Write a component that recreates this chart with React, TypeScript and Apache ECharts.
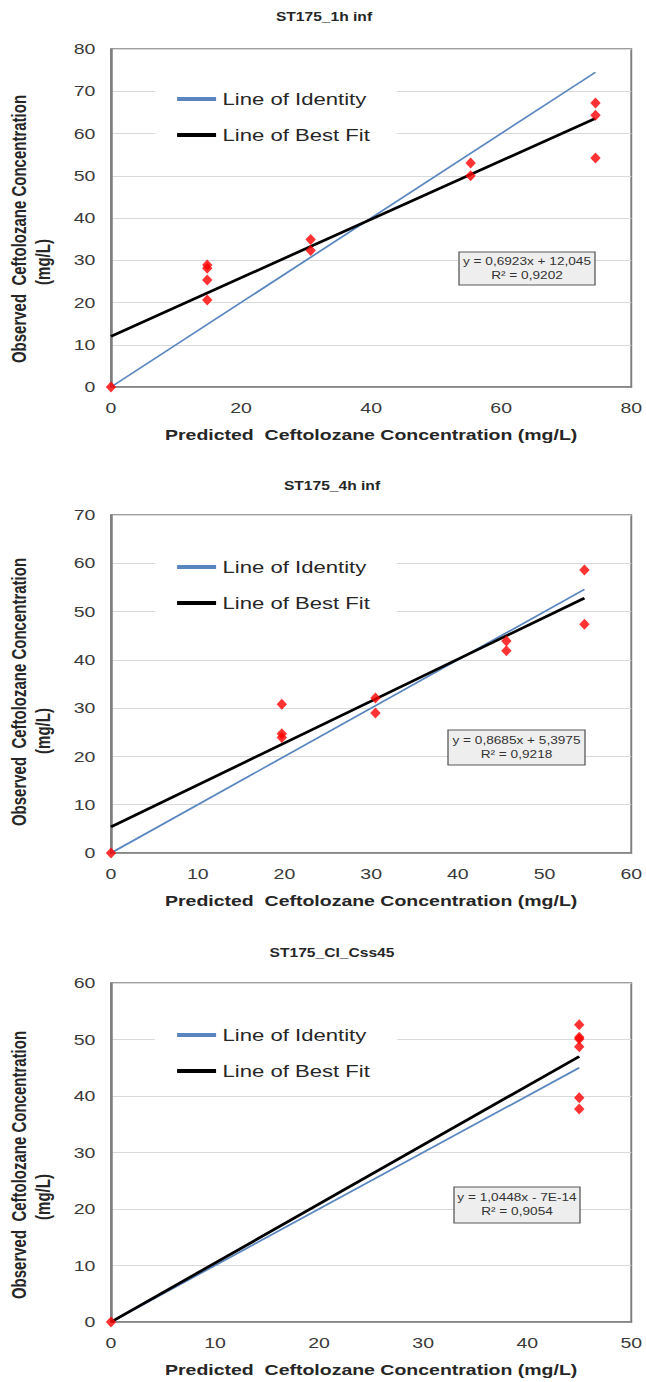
import React, { useEffect, useRef } from "react";
import * as echarts from "echarts";

// ---------- data ----------
const TITLES = ["ST175_1h inf", "ST175_4h inf", "ST175_CI_Css45"];
const X_MAX = [80, 60, 50];
const X_INTERVAL = [20, 10, 10];
const Y_MAX = [80, 70, 60];
const Y_INTERVAL = [10, 10, 10];

const POINTS_1H: [number, number][] = [
  [0, 0],
  [14.8, 28.9], [14.8, 28.1], [14.8, 25.3], [14.8, 20.6],
  [30.7, 34.9], [30.7, 32.3],
  [55.3, 53.0], [55.3, 50.0],
  [74.5, 67.2], [74.5, 64.3], [74.5, 54.2],
];
const POINTS_4H: [number, number][] = [
  [0, 0],
  [19.7, 30.8], [19.7, 24.7], [19.7, 23.9],
  [30.5, 32.1], [30.5, 29.0],
  [45.6, 43.9], [45.6, 41.9],
  [54.6, 58.6], [54.6, 47.4],
];
const POINTS_CSS45: [number, number][] = [
  [0, 0],
  [45, 52.6], [45, 50.4], [45, 50.1], [45, 48.7], [45, 39.7], [45, 37.7],
];

const IDENTITY_1H: [number, number][] = [[0, 0], [74.5, 74.5]];
const IDENTITY_4H: [number, number][] = [[0, 0], [54.6, 54.6]];
const IDENTITY_CSS45: [number, number][] = [[0, 0], [45, 45]];

const FIT_1H: [number, number][] = [[0, 12.0], [74.5, 63.6]];
const FIT_4H: [number, number][] = [[0, 5.4], [54.6, 52.8]];
const FIT_CSS45: [number, number][] = [[0, 0], [45, 47.0]];

const EQUATIONS = [
  ["y = 0,6923x + 12,045", "R² = 0,9202"],
  ["y = 0,8685x + 5,3975", "R² = 0,9218"],
  ["y = 1,0448x - 7E-14", "R² = 0,9054"],
];

const LEGEND_NAMES = ["Line of Identity", "Line of Best Fit"];
const X_TITLE = "Predicted  Ceftolozane Concentration (mg/L)";
const Y_TITLE = ["Observed  Ceftolozane Concentration", "(mg/L)"];

const POINTS = [POINTS_1H, POINTS_4H, POINTS_CSS45];
const IDENTITY = [IDENTITY_1H, IDENTITY_4H, IDENTITY_CSS45];
const FIT = [FIT_1H, FIT_4H, FIT_CSS45];

// ---------- layout (real pixels, chart is stretched horizontally) ----------
const W = 497;
const S = 646 / W;
const rx = (x: number) => x / S;
const FONT = "'Liberation Sans', Arial, sans-serif";

const GRIDS = [
  { top: 49, height: 338 },
  { top: 515, height: 338 },
  { top: 983, height: 339 },
];
const TITLE_POS = [
  { x: 324, y: 17 },
  { x: 332, y: 486 },
  { x: 332, y: 953 },
];
const YTITLE_POS = [
  { y1: 229, y2: 262 },
  { y1: 692, y2: 731 },
  { y1: 1165, y2: 1197 },
];
const LEGEND_TOP = [78, 546, 1014];
const EQ_BOX = [
  { x: 459, y: 252, w: 136, h: 33 },
  { x: 448, y: 730, w: 137, h: 35 },
  { x: 454, y: 1187, w: 126, h: 36 },
];

export default function App() {
  const ref = useRef<HTMLDivElement>(null);

  useEffect(() => {
    if (!ref.current) return;
    const chart = echarts.init(ref.current, undefined, { renderer: "svg" });

    const grid = GRIDS.map((g) => ({
      left: rx(111),
      right: rx(11),
      top: g.top,
      height: g.height,
      show: true,
      borderColor: "#7f7f7f",
      borderWidth: 1.5,
      backgroundColor: "#fff",
    }));

    const xAxis = GRIDS.map((_, i) => ({
      type: "value",
      gridIndex: i,
      min: 0,
      max: X_MAX[i],
      interval: X_INTERVAL[i],
      axisLine: { show: true, lineStyle: { color: "#7f7f7f", width: 1.5 } },
      axisTick: { show: false },
      splitLine: { show: false },
      axisLabel: { color: "#3a3a3a", fontSize: 15, fontFamily: FONT, margin: 13 },
      name: X_TITLE,
      nameLocation: "middle",
      nameGap: 40,
      nameTextStyle: { color: "#262626", fontSize: 15, fontWeight: "bold", fontFamily: FONT },
    }));

    const yAxis = GRIDS.map((_, i) => ({
      type: "value",
      gridIndex: i,
      min: 0,
      max: Y_MAX[i],
      interval: Y_INTERVAL[i],
      axisLine: { show: true, lineStyle: { color: "#7f7f7f", width: 1.5 } },
      axisTick: { show: false },
      splitLine: { show: true, lineStyle: { color: "#d9d9d9", width: 1 } },
      axisLabel: { color: "#3a3a3a", fontSize: 15, fontFamily: FONT, margin: 12 },
    }));

    const series: any[] = [];
    GRIDS.forEach((_, i) => {
      series.push({
        name: LEGEND_NAMES[0],
        type: "line",
        xAxisIndex: i,
        yAxisIndex: i,
        data: IDENTITY[i],
        showSymbol: false,
        lineStyle: { color: "#5a86c0", width: 1.6 },
        itemStyle: { color: "#5a86c0" },
        z: 2,
      });
      series.push({
        name: LEGEND_NAMES[1],
        type: "line",
        xAxisIndex: i,
        yAxisIndex: i,
        data: FIT[i],
        showSymbol: false,
        lineStyle: { color: "#000", width: 2.6 },
        itemStyle: { color: "#000" },
        z: 3,
      });
      series.push({
        name: "Observed",
        type: "scatter",
        xAxisIndex: i,
        yAxisIndex: i,
        data: POINTS[i],
        symbol: "diamond",
        symbolSize: [8, 11],
        itemStyle: { color: "#ff0000" },
        clip: false,
        z: 4,
      });
    });

    const legend = GRIDS.map((_, i) => ({
      data: LEGEND_NAMES,
      orient: "vertical",
      left: rx(155),
      top: LEGEND_TOP[i],
      icon: "rect",
      itemWidth: 30,
      itemHeight: 4,
      itemGap: 16,
      padding: [11, 21, 8, 17],
      backgroundColor: "#fff",
      selectedMode: false,
      textStyle: { fontSize: 17, color: "#262626", fontFamily: FONT, lineHeight: 20 },
    }));

    const graphic: any[] = [];
    GRIDS.forEach((_, i) => {
      graphic.push({
        type: "text",
        x: rx(TITLE_POS[i].x),
        y: TITLE_POS[i].y,
        style: {
          text: TITLES[i],
          fontSize: 12,
          fontWeight: "bold",
          fontFamily: FONT,
          fill: "#262626",
          align: "center",
          verticalAlign: "middle",
        },
      });
      graphic.push({
        type: "text",
        x: rx(19),
        y: YTITLE_POS[i].y1,
        rotation: Math.PI / 2,
        style: {
          text: Y_TITLE[0],
          fontSize: 15,
          fontWeight: "bold",
          fontFamily: FONT,
          fill: "#262626",
          align: "center",
          verticalAlign: "middle",
        },
      });
      graphic.push({
        type: "text",
        x: rx(43),
        y: YTITLE_POS[i].y2,
        rotation: Math.PI / 2,
        style: {
          text: Y_TITLE[1],
          fontSize: 15,
          fontWeight: "bold",
          fontFamily: FONT,
          fill: "#262626",
          align: "center",
          verticalAlign: "middle",
        },
      });
      const b = EQ_BOX[i];
      graphic.push({
        type: "rect",
        shape: { x: rx(b.x), y: b.y, width: rx(b.w), height: b.h },
        style: { fill: "#eeeeee", stroke: "#595959", lineWidth: 1 },
        z: 10,
      });
      graphic.push({
        type: "text",
        x: rx(b.x + b.w / 2),
        y: b.y + b.h / 2,
        z: 11,
        style: {
          text: EQUATIONS[i].join("\n"),
          fontSize: 10.5,
          lineHeight: 14,
          fontFamily: FONT,
          fill: "#333",
          align: "center",
          verticalAlign: "middle",
        },
      });
    });

    chart.setOption({
      animation: false,
      backgroundColor: "#fff",
      grid,
      xAxis,
      yAxis,
      series,
      legend,
      graphic,
    });

    return () => chart.dispose();
  }, []);

  return (
    <div
      style={{
        position: "absolute",
        left: 0,
        top: 0,
        width: 646,
        height: 1382,
        overflow: "hidden",
        background: "#fff",
      }}
    >
      <div
        ref={ref}
        style={{
          width: W,
          height: 1382,
          transform: `scaleX(${S})`,
          transformOrigin: "0 0",
        }}
      />
    </div>
  );
}
